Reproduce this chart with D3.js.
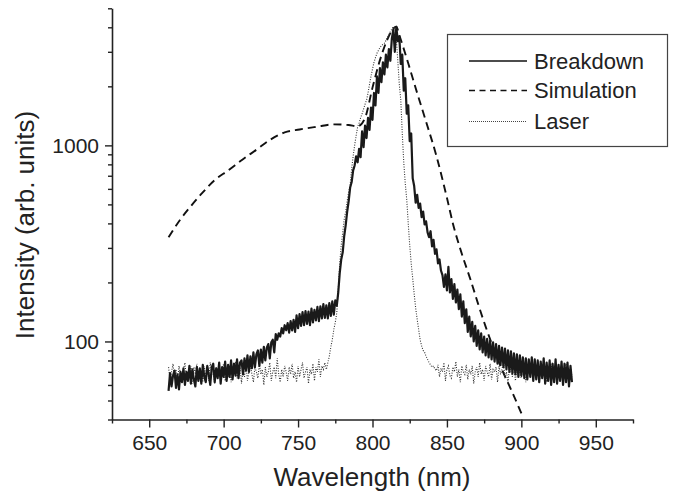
<!DOCTYPE html>
<html>
<head>
<meta charset="utf-8">
<script src="https://cdn.jsdelivr.net/npm/d3@7"></script>
<style>
body { margin: 0; background: #fff; }
svg { display: block; font-family: "Liberation Sans", Arial, sans-serif; }
</style>
</head>
<body>
<svg id="chart"></svg>
<script>
// measured spectra are sampled every 1 nm from 663 to 934 nm
var specStart = 663, specEnd = 934;

// breakdown spectrum (arb. units), one value per nm
var breakdown = [
    56, 69, 59, 67, 71, 58, 68, 57, 70, 62,
    73, 60, 70, 63, 75, 61, 72, 64, 59, 74,
    63, 73, 61, 76, 66, 62, 75, 68, 60, 74,
    77, 62, 73, 65, 78, 61, 74, 66, 79, 63,
    76, 66, 80, 64, 77, 67, 81, 65, 78, 80,
    68, 82, 71, 85, 70, 84, 73, 88, 74, 86,
    90, 75, 91, 78, 94, 80, 93, 97, 82, 99,
    102, 88, 109, 102, 110, 106, 117, 110, 121, 114,
    124, 111, 127, 114, 129, 112, 136, 117, 138, 120,
    141, 121, 143, 123, 142, 121, 147, 125, 145, 128,
    150, 127, 151, 131, 155, 132, 153, 131, 157, 135,
    160, 137, 162, 152, 178,
    224, 262, 285, 345, 392, 460, 520, 610, 650, 745,
    790, 880, 820, 960, 870, 1180, 980, 1260, 1090, 1380,
    1200, 1560, 1350, 1850, 1600, 2250, 1850, 2480, 2100, 2650,
    2300, 2900, 2500, 3100, 2700, 3500, 3900, 3000, 4020, 3400,
    3600, 2600, 2900, 1900, 2200, 1450, 1600, 1050, 1150, 680,
    620, 510, 560, 480, 505, 430, 460, 395, 410, 360,
    340, 365, 305, 330, 280, 295, 250, 262, 230, 218,
    190, 220, 182, 240, 178, 208, 165, 196, 158, 184,
    146, 174, 134, 160, 124, 146, 112, 134, 106, 126,
    100, 120, 95, 114, 91, 110, 88, 106, 85, 103,
    83, 101, 81, 99, 79, 97, 77, 95, 76, 93,
    74, 92, 72, 90, 70, 89, 69, 87, 68, 86,
    66, 85, 67, 83, 65, 82, 64, 81, 66, 83,
    63, 81, 64, 80, 62, 79, 65, 82, 61, 78,
    63, 80, 60, 77, 62, 81, 61, 76, 63, 79,
    60, 77, 62, 78, 59, 75, 62
];

// laser spectrum (arb. units), one value per nm
var laser = [
    74, 63, 70, 77, 65, 72, 62, 75, 68, 66,
    72, 78, 64, 70, 66, 75, 61, 74, 68, 77,
    65, 72, 70, 62, 75, 66, 74, 63, 78, 68,
    70, 61, 74, 68, 75, 65, 72, 77, 63, 70,
    66, 75, 62, 72, 68, 79, 65, 70, 74, 61,
    72, 66, 77, 63, 70, 75, 68, 62, 74, 70,
    65, 77, 68, 72, 60, 74, 66, 70, 78, 63,
    70, 74, 65, 82, 68, 62, 72, 66, 75, 70,
    63, 74, 68, 77, 65, 70, 62, 75, 66, 72,
    78, 65, 70, 74, 61, 72, 68, 77, 63, 74,
    70, 81, 66, 75, 72, 78, 72, 78, 84, 94,
    102, 115, 125, 140, 185, 250, 310, 360, 420, 460,
    520, 580, 630, 760, 880, 1000, 1120, 1240, 1300, 1380,
    1450, 1530, 1620, 1700, 1850, 2050, 2250, 2450, 2650, 2800,
    2950, 3050, 3150, 3220, 3280, 3320, 3420, 3550, 3680, 3800,
    3920, 4030, 3950, 3500, 2700, 2050, 1700, 1150, 820, 640,
    530, 400, 310, 250, 210, 175, 148, 130, 115, 102,
    95, 90, 88, 84, 81, 78, 76, 74, 75, 72,
    71, 76, 66, 73, 70, 78, 63, 72, 75, 67,
    65, 74, 70, 79, 66, 72, 62, 75, 70, 68,
    76, 64, 72, 68, 75, 61, 70, 74, 66, 78,
    68, 72, 63, 75, 70, 66, 77, 64, 72, 70,
    74, 62, 75, 68, 72, 79, 65, 70, 61, 74,
    70, 66, 75, 63, 72, 77, 68, 65, 74, 70,
    62, 75, 70, 66, 78, 65, 72, 68, 74, 63,
    70, 75, 66, 72, 62, 74, 68, 77, 65, 70,
    72, 66, 75, 63, 70, 74, 68, 77, 65, 70,
    74, 66
];

// simulated spectrum
var simWl  = [663, 671, 677, 685, 694, 703, 713, 722, 731, 741, 751, 763, 774, 784, 790,
              795, 800, 805, 810, 814, 816, 818, 824, 830, 836, 843, 850, 854, 860, 866,
              871, 876, 880, 888, 893, 900];
var simVal = [340, 420, 480, 565, 665, 745, 850, 950, 1065, 1165, 1205, 1245, 1280, 1270, 1250,
              1380, 1970, 2720, 3470, 3945, 4030, 3650, 2620, 1850, 1320, 880, 540, 400, 280, 205,
              155, 119, 98, 69, 57, 43];

var xTicks = [650, 700, 750, 800, 850, 900, 950];
var xMinor = [625, 675, 725, 775, 825, 875, 925, 975];
var yTicks = [100, 1000];
var yMinor = [40, 50, 60, 70, 80, 90, 200, 300, 400, 500, 600, 700, 800, 900, 2000, 3000, 4000, 5000];
var legendLabels = ["Breakdown", "Simulation", "Laser"];

var svgWidth = 675, svgHeight = 496;
var svg = d3.select("#chart")
    .attr("width", svgWidth)
    .attr("height", svgHeight);

var x = d3.scaleLinear().domain([625, 975]).range([112, 633]);
var y = d3.scaleLog().domain([40, 5000]).range([419.5, 8.3]);

var wl = d3.range(specStart, specEnd + 1);
var bdData = wl.map(function(w, i) { return { wl: w, v: breakdown[i] }; });
var laserData = wl.map(function(w, i) { return { wl: w, v: laser[i] }; });
var simData = simWl.map(function(w, i) { return { wl: w, v: simVal[i] }; });

var line = d3.line()
    .x(function(d) { return x(d.wl); })
    .y(function(d) { return y(d.v); });

var axisColor = "#222";

// x axis, minor ticks first then major with labels
svg.append("g")
    .attr("transform", "translate(0," + y.range()[0] + ")")
    .call(d3.axisBottom(x).tickValues(xMinor).tickSize(4).tickSizeOuter(0).tickFormat(""))
    .call(function(g) { g.select(".domain").remove(); });

var gx = svg.append("g")
    .attr("transform", "translate(0," + y.range()[0] + ")")
    .call(d3.axisBottom(x).tickValues(xTicks).tickSize(8).tickPadding(8).tickSizeOuter(0).tickFormat(d3.format("d")));
gx.selectAll("text").style("font-size", "21px").attr("fill", axisColor);

// y axis
svg.append("g")
    .attr("transform", "translate(" + x.range()[0] + ",0)")
    .call(d3.axisLeft(y).tickValues(yMinor).tickSize(4).tickSizeOuter(0).tickFormat(""))
    .call(function(g) { g.select(".domain").remove(); });

var gy = svg.append("g")
    .attr("transform", "translate(" + x.range()[0] + ",0)")
    .call(d3.axisLeft(y).tickValues(yTicks).tickSize(7).tickPadding(6).tickSizeOuter(0).tickFormat(d3.format("d")));
gy.selectAll("text").style("font-size", "21px").attr("fill", axisColor);

svg.selectAll(".domain").attr("stroke", axisColor).attr("stroke-width", 1.6);
svg.selectAll(".tick line").attr("stroke", axisColor).attr("stroke-width", 1.4);

// axis titles
svg.append("text")
    .attr("x", 372)
    .attr("y", 486)
    .attr("text-anchor", "middle")
    .style("font-size", "26px")
    .attr("fill", axisColor)
    .text("Wavelength (nm)");

svg.append("text")
    .attr("transform", "translate(34,225) rotate(-90)")
    .attr("text-anchor", "middle")
    .style("font-size", "26px")
    .attr("fill", axisColor)
    .text("Intensity (arb. units)");

// curves
svg.append("path")
    .datum(simData)
    .attr("fill", "none")
    .attr("stroke", "#111")
    .attr("stroke-width", 1.9)
    .attr("stroke-dasharray", "8,5")
    .attr("d", line.curve(d3.curveMonotoneX));

line.curve(d3.curveLinear);

svg.append("path")
    .datum(laserData)
    .attr("fill", "none")
    .attr("stroke", "#333")
    .attr("stroke-width", 1.1)
    .attr("stroke-dasharray", "1,1.5")
    .attr("d", line);

svg.append("path")
    .datum(bdData)
    .attr("fill", "none")
    .attr("stroke", "#1a1a1a")
    .attr("stroke-width", 2.2)
    .attr("stroke-linejoin", "round")
    .attr("d", line);

// legend
var legend = svg.append("g");
legend.append("rect")
    .attr("x", 447.5)
    .attr("y", 34.5)
    .attr("width", 220)
    .attr("height", 112)
    .attr("fill", "#fff")
    .attr("stroke", "#444")
    .attr("stroke-width", 1.2);

var legendY = [61, 90.5, 121.5];
var legendStyle = [
    { stroke: "#111", width: 1.7, dash: null },
    { stroke: "#111", width: 1.7, dash: "6,4.5" },
    { stroke: "#444", width: 1, dash: "1,1" }
];
legendLabels.forEach(function(label, i) {
    legend.append("line")
        .attr("x1", 469).attr("x2", 527)
        .attr("y1", legendY[i]).attr("y2", legendY[i])
        .attr("stroke", legendStyle[i].stroke)
        .attr("stroke-width", legendStyle[i].width)
        .attr("stroke-dasharray", legendStyle[i].dash);
    legend.append("text")
        .attr("x", 534)
        .attr("y", legendY[i])
        .attr("dy", "0.35em")
        .style("font-size", "22px")
        .attr("fill", axisColor)
        .text(label);
});
</script>
</body>
</html>
